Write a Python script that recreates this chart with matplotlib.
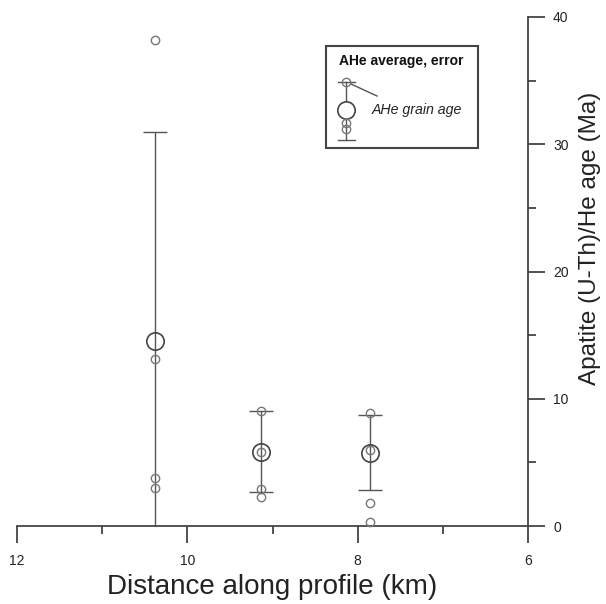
import matplotlib
matplotlib.use("Agg")
import matplotlib.pyplot as plt
from matplotlib.patches import Rectangle
from matplotlib.lines import Line2D

plt.rcParams['font.family'] = ['Liberation Sans', 'DejaVu Sans']

# ---- data ----
distance = [10.38, 9.14, 7.85]          # km along profile
avg_age = [14.5, 5.85, 5.75]            # AHe average (Ma)
avg_err = [16.5, 3.2, 2.95]             # error (Ma)
grain_ages = [
    [38.2, 13.1, 3.8, 3.0],
    [9.05, 5.8, 2.9, 2.3],
    [8.9, 6.0, 1.8, 0.3],
]
x_ticks = [12, 10, 8, 6]
x_minor = [11, 9, 7]
y_ticks = [0, 10, 20, 30, 40]
y_minor = [5, 15, 25, 35]

fig = plt.figure(figsize=(6.06, 6.04), dpi=100)
W, H = 606, 604
l, r, t, b = 17, 528, 17, 526
ax = fig.add_axes([l / W, 1 - b / H, (r - l) / W, (b - t) / H])

ax.set_xlim(12, 6)
ax.set_ylim(0, 40)

for s in ['top', 'left']:
    ax.spines[s].set_visible(False)
for s in ['bottom', 'right']:
    ax.spines[s].set_color('#444444')
    ax.spines[s].set_linewidth(1.3)

ax.yaxis.tick_right()
ax.yaxis.set_label_position('right')
ax.set_xticks(x_ticks)
ax.set_xticks(x_minor, minor=True)
ax.set_yticks(y_ticks)
ax.set_yticks(y_minor, minor=True)
ax.tick_params(which='major', direction='out', length=12, width=1.3, color='#444444',
               labelsize=10, labelcolor='#222222')
ax.tick_params(axis='x', which='major', pad=8)
ax.tick_params(axis='y', which='major', pad=6)
ax.tick_params(which='minor', direction='out', length=6, width=1.3, color='#444444')
ax.set_xticklabels([str(v) for v in x_ticks])
ax.set_yticklabels([str(v) for v in y_ticks])

ax.set_xlabel('Distance along profile (km)', fontsize=20, color='#222222')
ax.xaxis.set_label_coords(0.5, -0.094)
ax.set_ylabel('Apatite (U-Th)/He age (Ma)', fontsize=17.5, color='#222222')
ax.yaxis.set_label_coords(1.10, 0.565)

# error bars
ax.errorbar(distance, avg_age, yerr=avg_err, fmt='none', ecolor='#555555',
            elinewidth=1.0, capsize=8.5, capthick=1.0, zorder=2)
# grain ages
for xd, ages in zip(distance, grain_ages):
    ax.plot([xd] * len(ages), ages, linestyle='none', marker='o', markersize=6,
            markerfacecolor='none', markeredgecolor='#777777', markeredgewidth=1.0,
            clip_on=False, zorder=3)
# averages
ax.plot(distance, avg_age, linestyle='none', marker='o', markersize=12.5,
        markerfacecolor='none', markeredgecolor='#444444', markeredgewidth=1.2, zorder=4)

# ---- legend key (axes-fraction coordinates) ----
def fx(px):
    return (px - l) / (r - l)

def fy(py):
    return (b - py) / (b - t)

tr = ax.transAxes
x0, x1, y0, y1 = fx(326), fx(478), fy(148), fy(46)
box = Rectangle((x0, y0), x1 - x0, y1 - y0, transform=tr, facecolor='white',
                edgecolor='#444444', lw=1.5, zorder=6, clip_on=False)
ax.add_patch(box)
ax.text(fx(339), fy(61), 'AHe average, error', transform=tr, fontsize=10,
        fontweight='bold', va='center', ha='left', zorder=7, color='#111111')
sx = fx(346)
ax.add_line(Line2D([sx, sx], [fy(82), fy(140)], transform=tr, color='#555555', lw=1.0, zorder=7))
cw = 8.5 / (r - l)
for yy in (82, 140):
    ax.add_line(Line2D([sx - cw, sx + cw], [fy(yy), fy(yy)], transform=tr,
                       color='#555555', lw=1.0, zorder=7))
ax.plot([sx], [fy(110)], transform=tr, marker='o', markersize=12.5, markerfacecolor='white',
        markeredgecolor='#444444', markeredgewidth=1.2, zorder=8)
for yy in (82, 123, 129):
    ax.plot([sx], [fy(yy)], transform=tr, marker='o', markersize=6, markerfacecolor='none',
            markeredgecolor='#777777', markeredgewidth=1.0, zorder=8)
ax.add_line(Line2D([fx(351), fx(377)], [fy(84), fy(96)], transform=tr, color='#555555',
                   lw=1.0, zorder=7))
ax.text(fx(372), fy(110), 'AHe grain age', transform=tr, fontsize=10.2, style='italic',
        va='center', ha='left', zorder=7, color='#222222')

fig.savefig('out.png', dpi=100)
